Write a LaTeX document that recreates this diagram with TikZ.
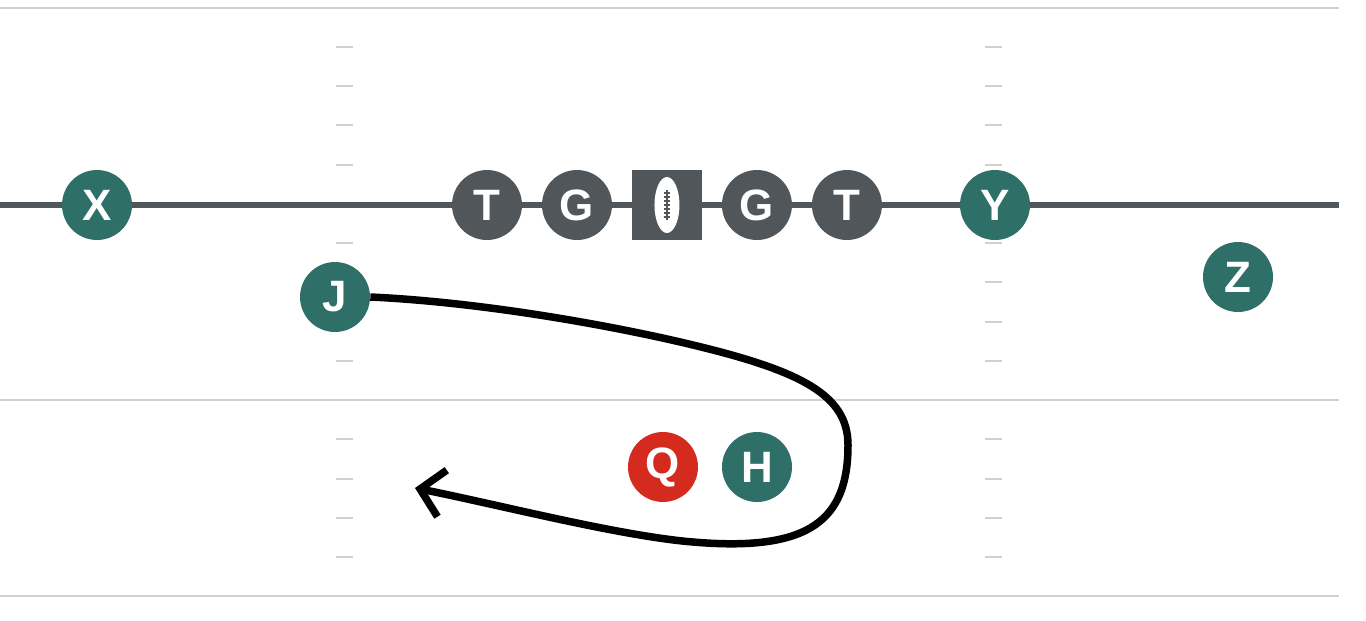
\documentclass[tikz,border=0pt]{standalone}
\usepackage{fontspec}
\setmainfont{Liberation Sans}
\usetikzlibrary{arrows.meta}

\definecolor{playerTeal}{RGB}{46,111,103}
\definecolor{lineGrey}{RGB}{80,86,89}
\definecolor{qbRed}{RGB}{212,43,30}
\definecolor{fieldGrey}{RGB}{208,208,208}

\begin{document}
\begin{tikzpicture}[x=0.02cm, y=-0.02cm, node distance=1.8cm,
	player/.style={circle, fill=playerTeal, text=white, minimum size=1.4cm, inner sep=0pt,
		font=\fontsize{25}{25}\selectfont\bfseries},
	lineman/.style={player, fill=lineGrey},
	fieldline/.style={fieldGrey, line width=0.04cm},
	hashmark/.style={fieldGrey, line width=0.04cm},
	route/.style={line width=0.15cm, -{Straight Barb[length=0.45cm, width=0.95cm]}}]
	\useasboundingbox (0,0) rectangle (1366,620);

	\foreach \y in {8,400,596}
		\draw[fieldline] (0,\y) -- (1339,\y);
	\foreach \k in {0,...,13} {
		\draw[hashmark] (336,{47+39.23*\k}) -- (353,{47+39.23*\k});
		\draw[hashmark] (985,{47+39.23*\k}) -- (1002,{47+39.23*\k});
	}
	\draw[lineGrey, line width=0.11cm] (0,205) -- (1339,205);

	\node(X) [player] at (97,205) {X};
	\node(LT) [lineman] at (487,205) {T};
	\node(LG) [lineman, right of=LT] {G};
	\node(Ball) [lineman, rectangle, right of=LG] {};
	\node(RG) [lineman, right of=Ball] {G};
	\node(RT) [lineman, right of=RG] {T};
	\node(Y) [player] at (995,205) {Y};
	\node(Z) [player] at (1238,277) {Z};
	\node(J) [player] at (335,297) {J};
	\node(Q) [player, fill=qbRed] at (663,467) {Q};
	\node(H) [player] at (757,467) {H};

	\fill[white] (Ball.center) ellipse [x radius=0.25cm, y radius=0.56cm];
	\draw[lineGrey, line width=0.03cm] ([yshift=-0.3cm]Ball.center) -- ([yshift=0.3cm]Ball.center);
	\foreach \k in {-3,...,3}
		\draw[lineGrey, line width=0.025cm] ([xshift=-0.06cm, yshift=\k*0.08cm]Ball.center) -- ([xshift=0.06cm, yshift=\k*0.08cm]Ball.center);

	\coordinate(routeEnd) at (415,488);
	\draw[route] (J.east) .. controls (480,302) and (610,325) .. (693,345)
		.. controls (801,371) and (848,395) .. (848,445)
		.. controls (848,520) and (810,552) .. (693,542)
		.. controls (620,536) and (500,505) .. (routeEnd);

\end{tikzpicture}
\end{document}
